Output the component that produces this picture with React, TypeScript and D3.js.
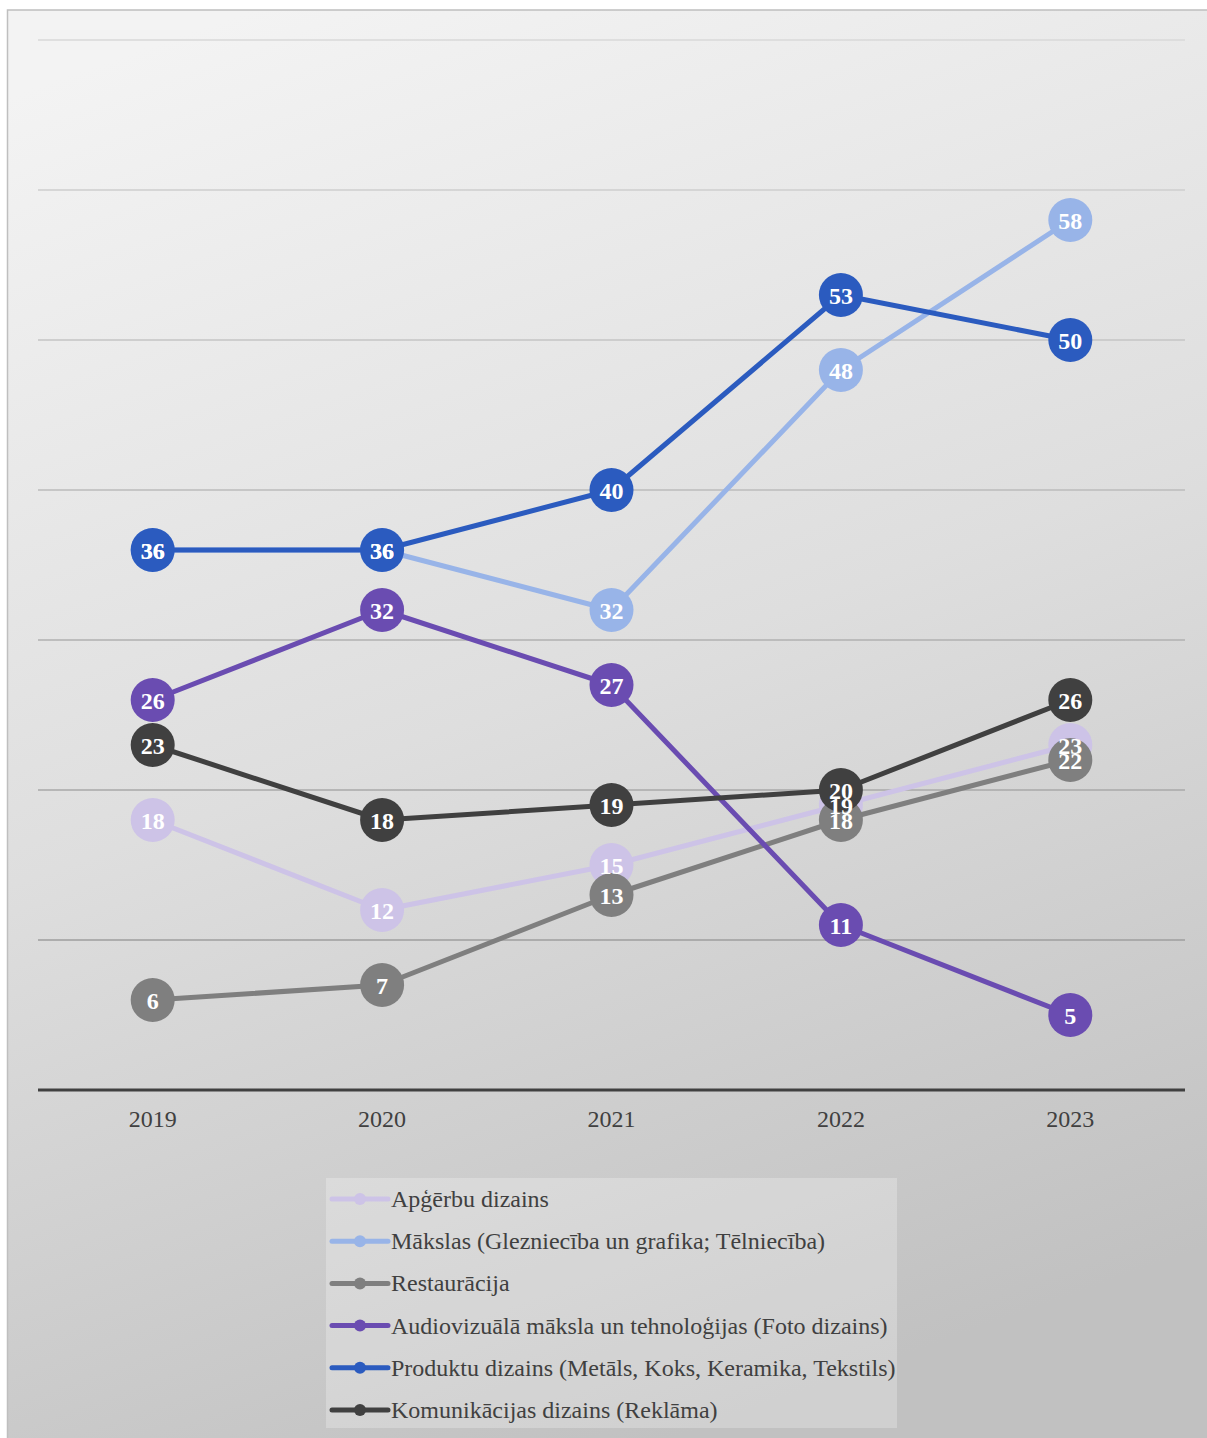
import React from 'react';
import * as d3 from 'd3';

const years = ['2019', '2020', '2021', '2022', '2023'];

const seriesNames = [
  'Apģērbu dizains',
  'Mākslas (Glezniecība un grafika; Tēlniecība)',
  'Restaurācija',
  'Audiovizuālā māksla un tehnoloģijas (Foto dizains)',
  'Produktu dizains (Metāls, Koks, Keramika, Tekstils)',
  'Komunikācijas dizains (Reklāma)',
];

const apgerbu = [18, 12, 15, 19, 23];
const makslas = [36, 36, 32, 48, 58];
const restauracija = [6, 7, 13, 18, 22];
const audiovizuala = [26, 32, 27, 11, 5];
const produktu = [36, 36, 40, 53, 50];
const komunikacijas = [23, 18, 19, 20, 26];

const seriesValues = [apgerbu, makslas, restauracija, audiovizuala, produktu, komunikacijas];
const seriesColors = ['#cdc3e7', '#98b4e8', '#7f7f7f', '#6a4cb1', '#2b5bbf', '#404040'];

const yTicks = [10, 20, 30, 40, 50, 60, 70];

const W = 1207;
const H = 1438;
const FONT = "'Liberation Serif'";

const App: React.FC = () => {
  const x = d3.scaleBand<string>().domain(years).range([38, 1185]);
  const y = d3.scaleLinear().domain([0, 70]).range([1090, 40]);
  const cx = (yr: string) => (x(yr) as number) + x.bandwidth() / 2;

  const line = d3
    .line<number>()
    .x((_, i) => cx(years[i]))
    .y((d) => y(d));

  const gridColor = d3.scaleLinear<string>().domain([70, 10]).range(['#d8d8d8', '#9e9e9e']);

  return (
    <svg
      width={W}
      height={H}
      style={{ display: 'block', position: 'absolute', left: 0, top: 0, overflow: 'hidden' }}
    >
      <defs>
        <linearGradient id="bg" x1="0.2" y1="0" x2="0.5" y2="1">
          <stop offset="0" stopColor="#f3f3f3" />
          <stop offset="0.5" stopColor="#dedede" />
          <stop offset="1" stopColor="#c1c1c1" />
        </linearGradient>
      </defs>
      <rect x={7.5} y={10} width={W + 10} height={H + 10} fill="url(#bg)" stroke="#bfbfbf" strokeWidth={1.5} />

      {/* gridlines */}
      {yTicks.map((t) => (
        <line key={t} x1={38} x2={1185} y1={y(t)} y2={y(t)} stroke={gridColor(t)} strokeWidth={1.5} />
      ))}
      <line x1={38} x2={1185} y1={y(0)} y2={y(0)} stroke="#404040" strokeWidth={3} />

      {/* x axis labels */}
      {years.map((yr) => (
        <text
          key={yr}
          x={cx(yr)}
          y={1119}
          textAnchor="middle"
          dominantBaseline="central"
          style={{ fontFamily: FONT }}
          fontSize={24}
          fill="#404040"
        >
          {yr}
        </text>
      ))}

      {/* lines and markers */}
      {seriesValues.map((vals, si) => (
        <g key={si}>
          <path d={line(vals) as string} fill="none" stroke={seriesColors[si]} strokeWidth={5} strokeLinejoin="round" />
          {vals.map((v, i) => (
            <circle key={i} cx={cx(years[i])} cy={y(v)} r={22} fill={seriesColors[si]} />
          ))}
        </g>
      ))}

      {/* data labels */}
      {seriesValues.map((vals, si) =>
        vals.map((v, i) => (
          <text
            key={`${si}-${i}`}
            x={cx(years[i])}
            y={y(v) + 1}
            textAnchor="middle"
            dominantBaseline="central"
            style={{ fontFamily: FONT }}
            fontWeight="bold"
            fontSize={24}
            fill="#ffffff"
          >
            {v}
          </text>
        ))
      )}

      {/* legend */}
      <rect x={326} y={1178} width={571} height={250} fill="#ffffff" fillOpacity={0.25} />
      {seriesNames.map((name, i) => {
        const ly = 1199 + i * 42.2;
        return (
          <g key={name}>
            <line x1={332} x2={388} y1={ly} y2={ly} stroke={seriesColors[i]} strokeWidth={5} strokeLinecap="round" />
            <circle cx={360} cy={ly} r={6} fill={seriesColors[i]} />
            <text
              x={391}
              y={ly}
              dominantBaseline="central"
              style={{ fontFamily: FONT }}
              fontSize={24}
              fill="#404040"
            >
              {name}
            </text>
          </g>
        );
      })}
    </svg>
  );
};

export default App;
